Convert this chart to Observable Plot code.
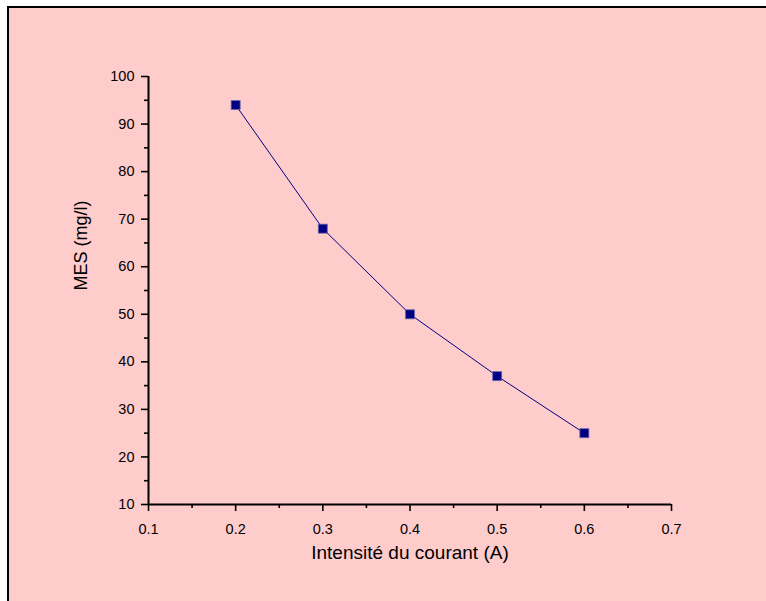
<!DOCTYPE html>
<html>
<head>
<meta charset="utf-8">
<script src="https://cdn.jsdelivr.net/npm/d3@7"></script>
<script src="https://cdn.jsdelivr.net/npm/@observablehq/plot@0.6"></script>
<style>
  html, body { margin: 0; padding: 0; background: #ffffff; overflow: hidden; width: 766px; height: 601px; }
  #box { position: absolute; left: 7px; top: 6px; width: 820px; height: 700px;
         background: #FFCCCC; border: 2px solid #000; box-sizing: border-box; }
  #chart { position: absolute; left: 0; top: 0; }
</style>
</head>
<body>
<div id="box"></div>
<div id="chart"></div>
<script>
const current = [0.2, 0.3, 0.4, 0.5, 0.6];
const mes = [94, 68, 50, 37, 25];
const xDomain = [0.1, 0.7];
const yDomain = [10, 100];
const xTicks = [0.1, 0.2, 0.3, 0.4, 0.5, 0.6, 0.7];
const xMinorTicks = [0.15, 0.25, 0.35, 0.45, 0.55, 0.65];
const yTicks = [10, 20, 30, 40, 50, 60, 70, 80, 90, 100];
const yMinorTicks = [15, 25, 35, 45, 55, 65, 75, 85, 95];
const xLabel = "Intensité du courant (A)";
const yLabel = "MES (mg/l)";

const data = current.map((c, i) => ({x: c, y: mes[i]}));
const font = "'Liberation Sans', Arial, sans-serif";

const chart = Plot.plot({
  width: 766,
  height: 601,
  marginLeft: 148,
  marginRight: 95,
  marginTop: 76,
  marginBottom: 97,
  style: {background: "transparent", fontFamily: font, fontSize: "14.5px", color: "#000"},
  x: {domain: xDomain},
  y: {domain: yDomain},
  marks: [
    Plot.axisX(xTicks, {tickSize: 7, tickPadding: 12, strokeWidth: 1.6, tickFormat: d3.format(".1f"), fontSize: 14.5, label: null}),
    Plot.axisX(xMinorTicks, {tickSize: 4, strokeWidth: 1.6, tickFormat: () => "", label: null}),
    Plot.axisY(yTicks, {tickSize: 7, tickPadding: 7, strokeWidth: 1.6, tickFormat: d3.format("d"), fontSize: 14.5, label: null}),
    Plot.axisY(yMinorTicks, {tickSize: 4, strokeWidth: 1.6, tickFormat: () => "", label: null}),
    Plot.ruleY([yDomain[0]], {stroke: "#000", strokeWidth: 2}),
    Plot.ruleX([xDomain[0]], {stroke: "#000", strokeWidth: 2}),
    Plot.line(data, {x: "x", y: "y", stroke: "#000080", strokeWidth: 1, curve: "linear"}),
    Plot.dot(data, {x: "x", y: "y", symbol: "square", r: 5.1, fill: "#000080", stroke: "#6a6ab0", strokeWidth: 0.8}),
    Plot.text([xLabel], {frameAnchor: "bottom", dy: 54, fontSize: 19, fill: "#000"}),
    Plot.text([yLabel], {frameAnchor: "left", dx: -67, rotate: -90, fontSize: 18, fill: "#000"})
  ]
});
document.getElementById("chart").appendChild(chart);
</script>
</body>
</html>
